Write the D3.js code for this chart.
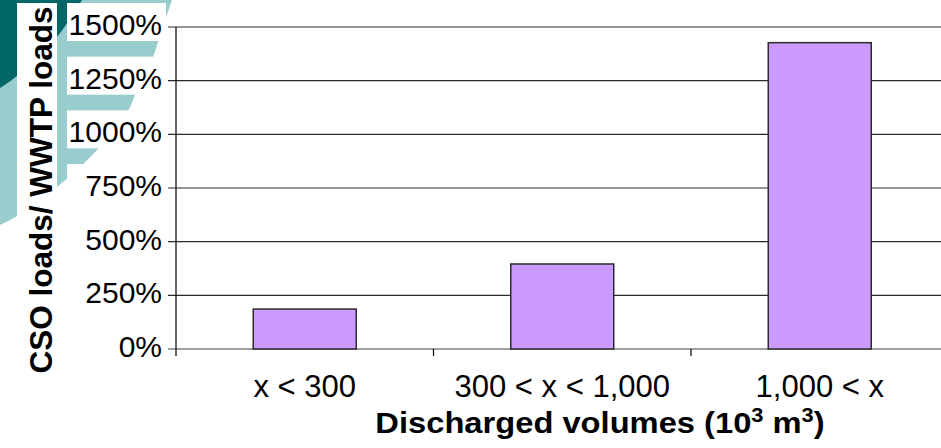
<!DOCTYPE html>
<html>
<head>
<meta charset="utf-8">
<script src="https://cdn.jsdelivr.net/npm/d3@7"></script>
<style>
  html, body { margin: 0; padding: 0; background: #fff; }
  svg { display: block; font-family: "Liberation Sans", Arial, Helvetica, sans-serif; }
</style>
</head>
<body>
<svg id="chart" width="941" height="448"></svg>
<script>
// ---- data ----
const categories = ["x < 300", "300 < x < 1,000", "1,000 < x"];
const ratioValues = [186, 396, 1427];
const yTicks = [0, 250, 500, 750, 1000, 1250, 1500];
const yTitle = "CSO loads/ WWTP loads";
const xTitleParts = ["Discharged volumes (10", "3", " m", "3", ")"];

// ---- decoration outline (template ornament, not data) ----
const lightShape = [[172,0],[158,42],[153,57],[137,90],[128,111],[97,150],[57,187],[17,216],[0,225]];
const darkShape = [[82,0],[57,37],[17,76],[0,88]];

(function () {
const svg = d3.select("#chart");
const W = 941, H = 448;
const plotLeft = 176, plotTop = 27, plotBottom = 349, plotRight = 948.5;

const y = d3.scaleLinear().domain([0, 1500]).range([plotBottom, plotTop]);
const x = d3.scaleBand().domain(categories).range([plotLeft, plotRight]).paddingInner(0.6).paddingOuter(0.3);

// decoration
const deco = svg.append("g");
const curve = d3.line().curve(d3.curveCatmullRom.alpha(0.5));
deco.append("path").attr("d", curve(lightShape) + "L0,0Z").attr("fill", "#99cccc");
deco.append("path").attr("d", curve(darkShape) + "L0,0Z").attr("fill", "#006666");

// white backing behind y title
deco.append("rect").attr("x", 17).attr("y", 3).attr("width", 40).attr("height", H).attr("fill", "#fff");

// white backing behind y tick labels
svg.append("g").selectAll("rect").data(yTicks).join("rect")
  .attr("x", 67).attr("width", 99)
  .attr("y", d => y(d) - 24).attr("height", 38)
  .attr("fill", "#fff");

// gridlines (incl. tick stubs)
svg.append("g").selectAll("line").data(yTicks.filter(d => d > 0)).join("line")
  .attr("x1", plotLeft - 8).attr("x2", W)
  .attr("y1", d => y(d)).attr("y2", d => y(d))
  .attr("stroke", "#2a2a2a").attr("stroke-width", 1.2);

// baseline
svg.append("line")
  .attr("x1", plotLeft - 8).attr("x2", W).attr("y1", y(0)).attr("y2", y(0))
  .attr("stroke", "#808080").attr("stroke-width", 1.6);

// y axis line
svg.append("line")
  .attr("x1", plotLeft).attr("x2", plotLeft).attr("y1", y(1500)).attr("y2", y(0) + 7)
  .attr("stroke", "#000").attr("stroke-width", 1.2);

// x ticks at band boundaries
const boundaries = categories.slice(1).map(c => x(c) - x.step() * x.paddingInner() / 2);
svg.append("g").selectAll("line").data(boundaries).join("line")
  .attr("x1", d => d).attr("x2", d => d)
  .attr("y1", y(0)).attr("y2", y(0) + 7)
  .attr("stroke", "#000").attr("stroke-width", 1.2);

// bars
svg.append("g").selectAll("rect").data(ratioValues).join("rect")
  .attr("x", (d, i) => x(categories[i]))
  .attr("width", x.bandwidth())
  .attr("y", d => y(d))
  .attr("height", d => y(0) - y(d))
  .attr("fill", "#cc99ff")
  .attr("stroke", "#2b2b2b").attr("stroke-width", 1.5);

// y tick labels
svg.append("g").selectAll("text").data(yTicks).join("text")
  .attr("x", 162).attr("y", d => y(d) + 8)
  .attr("text-anchor", "end")
  .attr("font-size", 30)
  .attr("fill", "#000")
  .text(d => d + "%");

// x tick labels
svg.append("g").selectAll("text").data(categories).join("text")
  .attr("x", d => x(d) + x.bandwidth() / 2)
  .attr("y", 397)
  .attr("text-anchor", "middle")
  .attr("font-size", 31)
  .attr("fill", "#000")
  .text(d => d);

// x title
const xt = svg.append("text")
  .attr("transform", "translate(600,433) scale(1.09,1)")
  .attr("text-anchor", "middle")
  .attr("font-size", 30).attr("font-weight", "bold").attr("fill", "#000");
xTitleParts.forEach((t, i) => {
  const sup = (i === 1 || i === 3);
  const ts = xt.append("tspan").text(t);
  if (sup) ts.attr("font-size", 20).attr("dy", -11);
  else if (i > 0) ts.attr("dy", 11);
});

// y title
svg.append("text")
  .attr("transform", "translate(52,190) rotate(-90)")
  .attr("text-anchor", "middle")
  .attr("font-size", 31.5).attr("font-weight", "bold").attr("fill", "#000")
  .text(yTitle);
})();
</script>
</body>
</html>
